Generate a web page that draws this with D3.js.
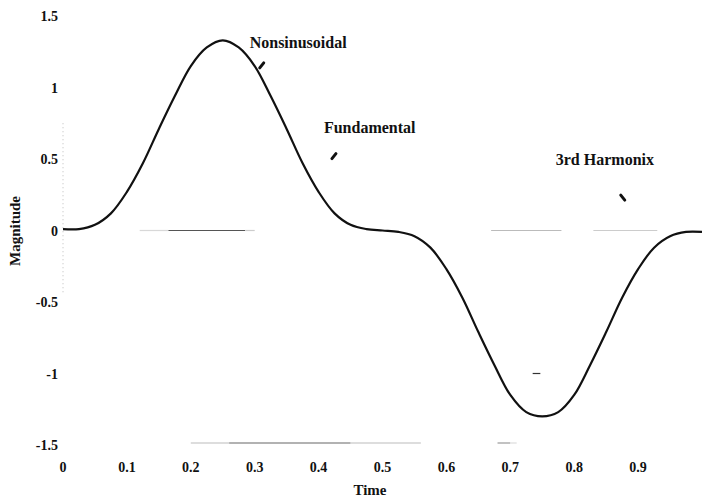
<!DOCTYPE html>
<html>
<head>
<meta charset="utf-8">
<script src="https://cdn.jsdelivr.net/npm/d3@7"></script>
<style>
  html, body { margin: 0; padding: 0; background: #fff; }
  svg { display: block; }
  text { font-family: "Liberation Serif", "Times New Roman", serif; font-weight: bold; fill: #111; }
</style>
</head>
<body>
<svg id="chart" width="702" height="500"></svg>
<script>
// ---- data ----
const time = [0, 0.025, 0.05, 0.075, 0.1, 0.125, 0.15, 0.175, 0.2, 0.225, 0.25,
              0.275, 0.3, 0.325, 0.35, 0.375, 0.4, 0.425, 0.45, 0.475, 0.5,
              0.525, 0.55, 0.575, 0.6, 0.625, 0.65, 0.675, 0.7, 0.725, 0.75,
              0.775, 0.8, 0.825, 0.85, 0.875, 0.9, 0.925, 0.95, 0.975, 1];
const nonsinusoidal = [0.01, 0.01, 0.04, 0.12, 0.27, 0.47, 0.71, 0.94, 1.15, 1.28, 1.33,
                       1.28, 1.15, 0.94, 0.71, 0.47, 0.27, 0.12, 0.04, 0.01, 0.0,
                       -0.01, -0.04, -0.12, -0.27, -0.47, -0.71, -0.94, -1.15, -1.27, -1.30,
                       -1.27, -1.15, -0.94, -0.71, -0.47, -0.27, -0.12, -0.04, -0.01, -0.01];
const xTicks = [0, 0.1, 0.2, 0.3, 0.4, 0.5, 0.6, 0.7, 0.8, 0.9];
const xTickLabels = ["0", "0.1", "0.2", "0.3", "0.4", "0.5", "0.6", "0.7", "0.8", "0.9"];
const yTicks = [1.5, 1, 0.5, 0, -0.5, -1, -1.5];
const yTickLabels = ["1.5", "1", "0.5", "0", "-0.5", "-1", "-1.5"];
const annotationLabels = ["Nonsinusoidal", "Fundamental", "3rd Harmonix"];
const annotationTextT = [0.368, 0.48, 0.848];
const annotationTextV = [1.31, 0.715, 0.49];
const annotationArrowT = [0.311, 0.424, 0.876];
const annotationArrowV = [1.155, 0.52, 0.23];
const annotationArrowDir = [-1, -1, 1];
// faint remnants of the zero line and bottom axis
const zeroLineSegments = [[0.12, 0.165, "#d8d8d8"], [0.165, 0.285, "#555"], [0.285, 0.30, "#ccc"], [0.67, 0.78, "#bbb"], [0.83, 0.93, "#ccc"]];
const bottomLineSegments = [[0.20, 0.26, "#bbb"], [0.26, 0.45, "#666"], [0.45, 0.56, "#bbb"], [0.68, 0.70, "#999"], [0.70, 0.71, "#ddd"]];

// ---- scales ----
const svg = d3.select("#chart");
const x = d3.scaleLinear().domain([0, 1]).range([63, 702]);
const y = d3.scaleLinear().domain([-1.5, 1.5]).range([445, 16]);

// faint y axis (dotted)
svg.append("line")
  .attr("x1", x(0)).attr("x2", x(0))
  .attr("y1", y(0.75)).attr("y2", y(-0.45))
  .attr("stroke", "#bbb").attr("stroke-width", 1).attr("stroke-dasharray", "1,3");

// faint remnants
svg.selectAll("line.zero").data(zeroLineSegments).enter().append("line")
  .attr("class", "zero")
  .attr("x1", d => x(d[0])).attr("x2", d => x(d[1]))
  .attr("y1", y(0)).attr("y2", y(0))
  .attr("stroke", d => d[2]).attr("stroke-width", 1.2);
svg.selectAll("line.bottom").data(bottomLineSegments).enter().append("line")
  .attr("class", "bottom")
  .attr("x1", d => x(d[0])).attr("x2", d => x(d[1]))
  .attr("y1", y(-1.5) - 2).attr("y2", y(-1.5) - 2)
  .attr("stroke", d => d[2]).attr("stroke-width", 1.2);
// small dash near -1
svg.append("line")
  .attr("x1", x(0.735)).attr("x2", x(0.747))
  .attr("y1", y(-1.0)).attr("y2", y(-1.0))
  .attr("stroke", "#333").attr("stroke-width", 1.2);

// ---- curve ----
const pts = time.map((t, i) => [t, nonsinusoidal[i]]);
const line = d3.line().x(d => x(d[0])).y(d => y(d[1])).curve(d3.curveCatmullRom);
svg.append("path").datum(pts)
  .attr("d", line)
  .attr("fill", "none")
  .attr("stroke", "#111")
  .attr("stroke-width", 2.2);

// ---- axes labels ----
svg.selectAll("text.ytick").data(yTicks).enter().append("text")
  .attr("class", "ytick")
  .attr("x", 58)
  .attr("y", d => y(d) + 5)
  .attr("text-anchor", "end")
  .attr("font-size", 14)
  .text((d, i) => yTickLabels[i]);

svg.selectAll("text.xtick").data(xTicks).enter().append("text")
  .attr("class", "xtick")
  .attr("x", d => x(d))
  .attr("y", 472)
  .attr("text-anchor", "middle")
  .attr("font-size", 14)
  .text((d, i) => xTickLabels[i]);

svg.append("text")
  .attr("transform", "translate(20,231) rotate(-90)")
  .attr("text-anchor", "middle")
  .attr("font-size", 15)
  .text("Magnitude");

svg.append("text")
  .attr("x", 370).attr("y", 495)
  .attr("text-anchor", "middle")
  .attr("font-size", 15)
  .text("Time");

// ---- annotations ----
svg.selectAll("text.ann").data(annotationLabels).enter().append("text")
  .attr("class", "ann")
  .attr("x", (d, i) => x(annotationTextT[i]))
  .attr("y", (d, i) => y(annotationTextV[i]) + 5)
  .attr("text-anchor", "middle")
  .attr("font-size", 16)
  .text(d => d);

// short thick arrow marks
svg.selectAll("line.arrow").data(annotationLabels).enter().append("line")
  .attr("class", "arrow")
  .attr("x1", (d, i) => x(annotationArrowT[i]) - annotationArrowDir[i] * 2)
  .attr("y1", (d, i) => y(annotationArrowV[i]) - 2.5)
  .attr("x2", (d, i) => x(annotationArrowT[i]) + annotationArrowDir[i] * 2)
  .attr("y2", (d, i) => y(annotationArrowV[i]) + 2.5)
  .attr("stroke", "#111")
  .attr("stroke-width", 3)
  .attr("stroke-linecap", "round");
</script>
</body>
</html>
